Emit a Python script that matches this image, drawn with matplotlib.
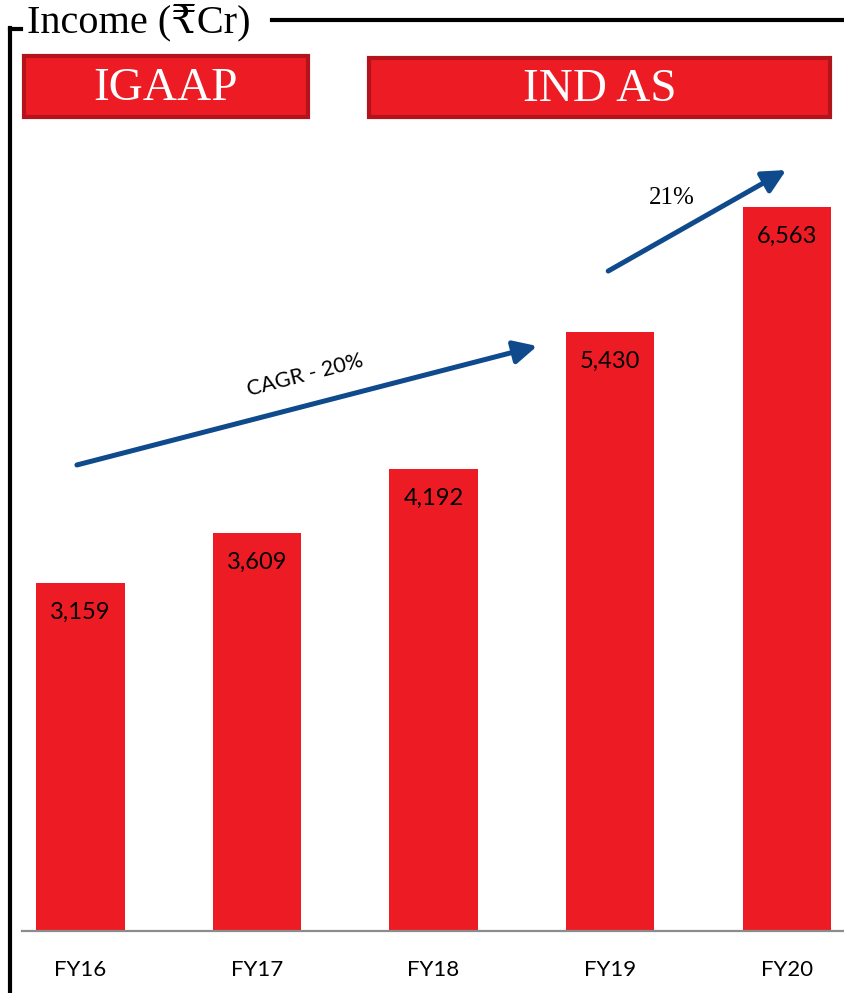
import matplotlib
matplotlib.use("Agg")
import matplotlib.pyplot as plt
from matplotlib.patches import Rectangle, FancyArrowPatch
from matplotlib.lines import Line2D

years = ["FY16", "FY17", "FY18", "FY19", "FY20"]
income = [3159, 3609, 4192, 5430, 6563]
value_labels = ["3,159", "3,609", "4,192", "5,430", "6,563"]
title_text = "Income (₹Cr)"
regimes = ["IGAAP", "IND AS"]
cagr_text = "CAGR - 20%"
growth_text = "21%"

RED = "#ED1C24"
DARK_RED = "#B3141C"
NAVY = "#0E4A8C"
SERIF = ["Liberation Serif", "DejaVu Serif", "DejaVu Sans"]
SANS = ["Lato", "DejaVu Sans"]

W, H = 845, 993
fig = plt.figure(figsize=(W / 100, H / 100), dpi=100)


def fx(x):
    return x / W


def fy(y):
    return 1 - y / H


ax = fig.add_axes([fx(22), fy(931), (W - 22) / W, 800 / H])
x = list(range(len(years)))
ax.bar(x, income, width=0.5, color=RED, zorder=2)
ax.set_xlim(-0.331, 4.33)
ax.set_ylim(0, 800 / 0.11025)

for xi, v, lab in zip(x, income, value_labels):
    ax.annotate(lab, (xi, v), xytext=(0, -21), textcoords="offset points",
                ha="center", va="center", fontsize=17, family=SANS, color="black", zorder=3)

for s in ["top", "left", "right"]:
    ax.spines[s].set_visible(False)
ax.spines["bottom"].set_color("#8C8C8C")
ax.spines["bottom"].set_linewidth(1.6)
ax.spines["bottom"].set_zorder(3)
ax.set_yticks([])
ax.set_xticks(x)
ax.set_xticklabels(years, fontsize=16, family=SANS, color="black")
ax.tick_params(axis="x", length=0, pad=21)
ax.patch.set_alpha(0)

# growth arrows
arrow_style = "-|>,head_length=7,head_width=3.5"
a1 = FancyArrowPatch((-0.02, 4227), (2.587, 5306), arrowstyle=arrow_style,
                     color=NAVY, lw=3.6, mutation_scale=2.0, shrinkA=0, shrinkB=0, zorder=4)
ax.add_patch(a1)
ax.text(1.272, 5043, cagr_text, rotation=14.5, rotation_mode="anchor", ha="center", va="center",
        fontsize=15.5, family=SANS, color="black")
a2 = FancyArrowPatch((2.989, 5986), (3.997, 6902), arrowstyle=arrow_style,
                     color=NAVY, lw=3.6, mutation_scale=2.0, shrinkA=0, shrinkB=0, zorder=4)
ax.add_patch(a2)
ax.text(3.351, 6649, growth_text, ha="center", va="center", fontsize=18, family=SERIF, color="black")

# frame lines
lw = 3.0
fig.add_artist(Line2D([fx(10), fx(10)], [fy(28), fy(993)], color="black", lw=lw, transform=fig.transFigure))
fig.add_artist(Line2D([fx(10), fx(21)], [fy(29), fy(29)], color="black", lw=lw, transform=fig.transFigure,
                      solid_capstyle="projecting"))
fig.add_artist(Line2D([fx(272), fx(845)], [fy(20), fy(20)], color="black", lw=lw, transform=fig.transFigure))
fig.text(fx(27), fy(23), title_text, ha="left", va="center", fontsize=29, family=SERIF, color="black")

# regime boxes
for (x0, x1, y0, y1), lab in zip([(24, 308, 56, 117), (369, 830, 58, 117)], regimes):
    fig.add_artist(Rectangle((fx(x0), fy(y1)), (x1 - x0) / W, (y1 - y0) / H, transform=fig.transFigure,
                             facecolor=RED, edgecolor=DARK_RED, lw=3.0))
    fig.text(fx((x0 + x1) / 2), fy((y0 + y1) / 2 + 2), lab, ha="center", va="center", fontsize=34,
             family=SERIF, color="white")

fig.savefig("out.png", dpi=100)
